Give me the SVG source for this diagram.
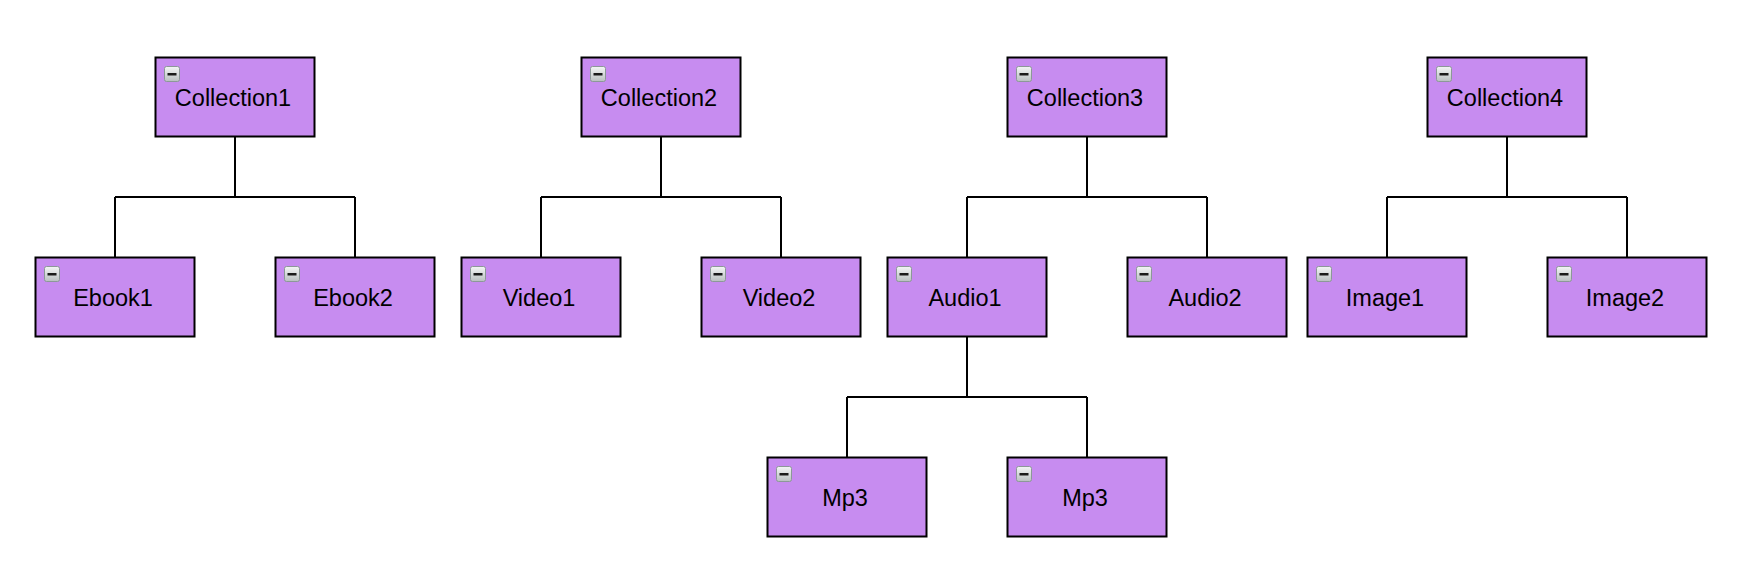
<svg xmlns="http://www.w3.org/2000/svg" width="1742" height="562" viewBox="0 0 1742 562">
  <defs>
    <linearGradient id="ig" x1="0" y1="0" x2="0" y2="1">
      <stop offset="0" stop-color="#f4f6f6"/>
      <stop offset="1" stop-color="#b9bfc0"/>
    </linearGradient>
    <g id="icon">
      <rect x="0.5" y="0.5" width="15" height="15" rx="2" fill="url(#ig)" stroke="#8c9898" stroke-width="1"/>
      <rect x="3.5" y="7" width="9" height="2.5" fill="#1a1a1a"/>
    </g>
  </defs>
  <style>
    .box { fill: #c78cf0; stroke: #000; stroke-width: 2; }
    .lbl { font-family: "Liberation Sans", Arial, sans-serif; font-size: 23.5px; fill: #000; text-anchor: middle; }
    .con { fill: none; stroke: #000; stroke-width: 2; }
  </style>
  <rect width="1742" height="562" fill="#fff"/>
  <g id="connectors">
    <path class="con" d="M235 137V197M115 197H355M115 197V257M355 197V257"/>
    <path class="con" d="M661 137V197M541 197H781M541 197V257M781 197V257"/>
    <path class="con" d="M1087 137V197M967 197H1207M967 197V257M1207 197V257"/>
    <path class="con" d="M1507 137V197M1387 197H1627M1387 197V257M1627 197V257"/>
    <path class="con" d="M967 337V397M847 397H1087M847 397V457M1087 397V457"/>
  </g>
  <g id="collection1"><rect class="box" x="155.5" y="57.5" width="159" height="79"/><use href="#icon" x="164" y="66"/><text class="lbl" x="233" y="105.5">Collection1</text></g>
  <g id="collection2"><rect class="box" x="581.5" y="57.5" width="159" height="79"/><use href="#icon" x="590" y="66"/><text class="lbl" x="659" y="105.5">Collection2</text></g>
  <g id="collection3"><rect class="box" x="1007.5" y="57.5" width="159" height="79"/><use href="#icon" x="1016" y="66"/><text class="lbl" x="1085" y="105.5">Collection3</text></g>
  <g id="collection4"><rect class="box" x="1427.5" y="57.5" width="159" height="79"/><use href="#icon" x="1436" y="66"/><text class="lbl" x="1505" y="105.5">Collection4</text></g>
  <g id="ebook1"><rect class="box" x="35.5" y="257.5" width="159" height="79"/><use href="#icon" x="44" y="266"/><text class="lbl" x="113" y="305.5">Ebook1</text></g>
  <g id="ebook2"><rect class="box" x="275.5" y="257.5" width="159" height="79"/><use href="#icon" x="284" y="266"/><text class="lbl" x="353" y="305.5">Ebook2</text></g>
  <g id="video1"><rect class="box" x="461.5" y="257.5" width="159" height="79"/><use href="#icon" x="470" y="266"/><text class="lbl" x="539" y="305.5">Video1</text></g>
  <g id="video2"><rect class="box" x="701.5" y="257.5" width="159" height="79"/><use href="#icon" x="710" y="266"/><text class="lbl" x="779" y="305.5">Video2</text></g>
  <g id="audio1"><rect class="box" x="887.5" y="257.5" width="159" height="79"/><use href="#icon" x="896" y="266"/><text class="lbl" x="965" y="305.5">Audio1</text></g>
  <g id="audio2"><rect class="box" x="1127.5" y="257.5" width="159" height="79"/><use href="#icon" x="1136" y="266"/><text class="lbl" x="1205" y="305.5">Audio2</text></g>
  <g id="image1"><rect class="box" x="1307.5" y="257.5" width="159" height="79"/><use href="#icon" x="1316" y="266"/><text class="lbl" x="1385" y="305.5">Image1</text></g>
  <g id="image2"><rect class="box" x="1547.5" y="257.5" width="159" height="79"/><use href="#icon" x="1556" y="266"/><text class="lbl" x="1625" y="305.5">Image2</text></g>
  <g id="mp3a"><rect class="box" x="767.5" y="457.5" width="159" height="79"/><use href="#icon" x="776" y="466"/><text class="lbl" x="845" y="505.5">Mp3</text></g>
  <g id="mp3b"><rect class="box" x="1007.5" y="457.5" width="159" height="79"/><use href="#icon" x="1016" y="466"/><text class="lbl" x="1085" y="505.5">Mp3</text></g>
</svg>
